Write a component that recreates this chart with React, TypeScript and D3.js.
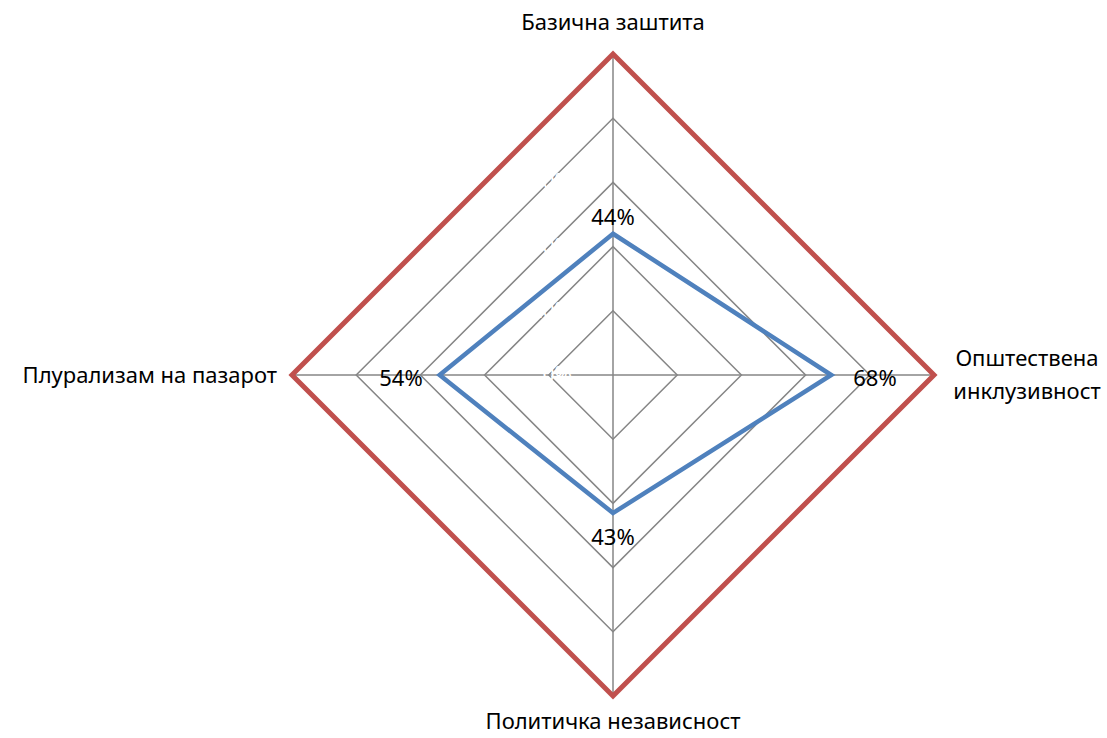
import React, { useEffect, useRef } from "react";
import * as d3 from "d3";

const categories = [
  "Базична заштита",
  "Општествена инклузивност",
  "Политичка независност",
  "Плурализам на пазарот",
];
const maxSeries = [1, 1, 1, 1];
const scoreSeries = [0.44, 0.68, 0.43, 0.54];
const ticks = [0, 0.2, 0.4, 0.6, 0.8, 1];

const FONT = "'Noto Sans', 'Open Sans', sans-serif";

const App = () => {
  const ref = useRef<SVGSVGElement>(null);

  useEffect(() => {
    const svg = d3.select(ref.current);
    svg.selectAll("*").remove();

    const cx = 613;
    const cy = 375;
    const r = d3.scaleLinear().domain([0, 1]).range([0, 321]);
    const angle = (i: number) => (i * 2 * Math.PI) / categories.length;
    const pt = (i: number, v: number): [number, number] => [
      cx + r(v) * Math.sin(angle(i)),
      cy - r(v) * Math.cos(angle(i)),
    ];
    const line = d3.line<number>().x((v, i) => pt(i, v)[0]).y((v, i) => pt(i, v)[1]).curve(d3.curveLinearClosed);

    const g = svg.append("g");

    // grid rings
    ticks.slice(1).forEach(t => {
      g.append("path")
        .attr("d", line(categories.map(() => t)))
        .attr("fill", "none")
        .attr("stroke", "#868686")
        .attr("stroke-width", 1.5);
    });
    // spokes
    categories.forEach((c, i) => {
      const [x, y] = pt(i, 1);
      g.append("line")
        .attr("x1", cx).attr("y1", cy).attr("x2", x).attr("y2", y)
        .attr("stroke", "#868686").attr("stroke-width", 1.5);
    });

    // hidden (white) tick labels
    ticks.slice(0, 5).forEach(t => {
      g.append("text")
        .attr("x", 572)
        .attr("y", cy - r(t) + 7)
        .attr("text-anchor", "end")
        .attr("font-family", FONT)
        .attr("font-size", 21)
        .attr("fill", "#ffffff")
        .text(d3.format(".0%")(t));
    });

    g.append("path")
      .attr("d", line(maxSeries))
      .attr("fill", "none")
      .attr("stroke", "#C0504D")
      .attr("stroke-width", 5)
      .attr("stroke-linejoin", "miter");

    g.append("path")
      .attr("d", line(scoreSeries))
      .attr("fill", "none")
      .attr("stroke", "#4F81BD")
      .attr("stroke-width", 4.5)
      .attr("stroke-linejoin", "miter");

    // data labels
    const labelPos: [number, number][] = [
      [613, 225],
      [875, 386],
      [613, 545],
      [401, 386],
    ];
    scoreSeries.forEach((v, i) => {
      g.append("text")
        .attr("x", labelPos[i][0])
        .attr("y", labelPos[i][1])
        .attr("text-anchor", "middle")
        .attr("font-family", FONT)
        .attr("font-size", 22)
        .attr("fill", "#000")
        .text(d3.format(".0%")(v));
    });

    // category labels
    const catText = (x: number, y: number, anchor: string, lines: string[]) => {
      const t = g.append("text")
        .attr("x", x).attr("y", y)
        .attr("text-anchor", anchor)
        .attr("font-family", FONT)
        .attr("font-size", 22)
        .attr("fill", "#000");
      lines.forEach((l, k) => t.append("tspan").attr("x", x).attr("dy", k === 0 ? 0 : 33).text(l));
    };
    catText(613, 30, "middle", [categories[0]]);
    catText(1027, 366, "middle", ["Општествена", "инклузивност"]);
    catText(613, 729, "middle", [categories[2]]);
    catText(277, 383, "end", [categories[3]]);
  }, []);

  return (
    <svg ref={ref} width={1107} height={738} style={{ position: "absolute", left: 0, top: 0, background: "#fff" }} />
  );
};

export default App;
